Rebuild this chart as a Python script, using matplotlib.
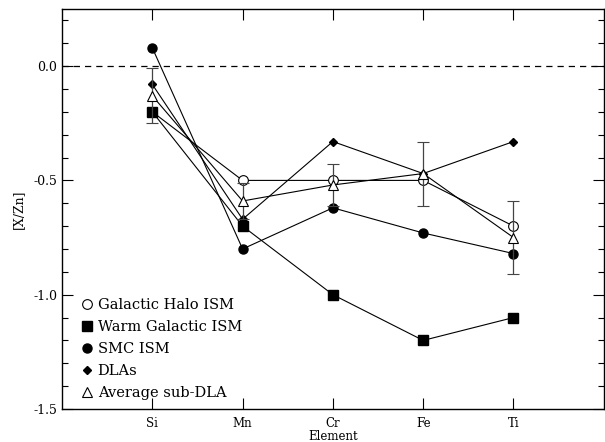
import numpy as np
import matplotlib
matplotlib.use('Agg')
import matplotlib.pyplot as plt
from matplotlib.lines import Line2D
from matplotlib.ticker import MultipleLocator, FixedLocator

elements = ['Si', 'Mn', 'Cr', 'Fe', 'Ti']
halo = [-0.20, -0.50, -0.50, -0.50, -0.70]
warm = [-0.20, -0.70, -1.00, -1.20, -1.10]
smc = [0.08, -0.80, -0.62, -0.73, -0.82]
dlas = [-0.08, -0.67, -0.33, -0.47, -0.33]
subdla = [-0.13, -0.59, -0.52, -0.47, -0.75]
subdla_err = [0.12, 0.08, 0.09, 0.14, 0.16]

plt.rcParams['font.family'] = ['DejaVu Serif']

fig = plt.figure(figsize=(6.05, 4.42), dpi=100)
ax = fig.add_axes([0.1025, 0.0747, 0.8955, 0.905])

x = np.arange(1, len(elements) + 1)
lw = 0.8

ax.axhline(0.0, color='k', lw=0.9, ls=(0, (5, 4)))

ax.plot(x, halo, '-', color='k', lw=lw, marker='o', ms=7, mfc='white', mec='k', mew=0.8)
ax.plot(x, warm, '-', color='k', lw=lw, marker='s', ms=6.5, mfc='k', mec='k')
ax.plot(x, smc, '-', color='k', lw=lw, marker='o', ms=6.5, mfc='k', mec='k')
ax.plot(x, dlas, '-', color='k', lw=lw, marker='D', ms=4.5, mfc='k', mec='k')
ax.errorbar(x, subdla, yerr=subdla_err, fmt='-', color='k', lw=lw, elinewidth=0.9,
            ecolor='#444444', capsize=4, capthick=0.9,
            marker='^', ms=7, mfc='white', mec='k', mew=0.8)

ax.set_xlim(0, 6)
ax.set_ylim(-1.5, 0.25)
ax.xaxis.set_major_locator(FixedLocator(x))
ax.set_xticklabels(elements)
ax.yaxis.set_major_locator(MultipleLocator(0.5))
ax.yaxis.set_minor_locator(MultipleLocator(0.1))
ax.tick_params(axis='both', which='both', direction='in', top=True, right=True)
ax.tick_params(axis='both', which='major', length=8, width=0.8, labelsize=9)
ax.tick_params(axis='y', which='minor', length=4, width=0.8)
ax.tick_params(axis='x', which='major', pad=6, labelsize=8.5)
ax.yaxis.set_major_formatter(matplotlib.ticker.FormatStrFormatter('%.1f'))
for s in ax.spines.values():
    s.set_linewidth(1.0)

ax.set_xlabel('Element', fontsize=8.5, labelpad=0)
ax.set_ylabel('[X/Zn]', fontsize=9, labelpad=6)

handles = [
    Line2D([], [], ls='none', marker='o', ms=7, mfc='white', mec='k', mew=0.8),
    Line2D([], [], ls='none', marker='s', ms=6.5, mfc='k', mec='k'),
    Line2D([], [], ls='none', marker='o', ms=6.5, mfc='k', mec='k'),
    Line2D([], [], ls='none', marker='D', ms=4.5, mfc='k', mec='k'),
    Line2D([], [], ls='none', marker='^', ms=7, mfc='white', mec='k', mew=0.8),
]
labels = ['Galactic Halo ISM', 'Warm Galactic ISM', 'SMC ISM', 'DLAs', 'Average sub-DLA']
ax.legend(handles, labels, loc='lower left', frameon=False, fontsize=10.5,
          handlelength=0.8, handletextpad=0.3, labelspacing=0.55,
          borderaxespad=0.2, bbox_to_anchor=(0.02, 0.0))

fig.savefig('out.png', dpi=100)
